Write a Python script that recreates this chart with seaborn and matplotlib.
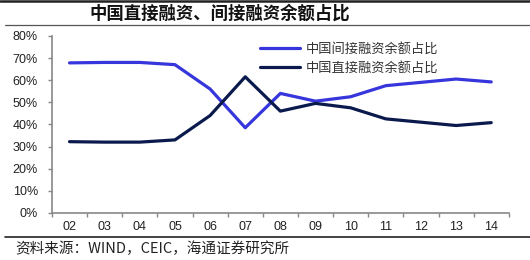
import matplotlib
matplotlib.use("Agg")
import matplotlib.pyplot as plt
import seaborn as sns
import pandas as pd
from matplotlib.lines import Line2D
from matplotlib.ticker import PercentFormatter, FixedLocator

years = ["02", "03", "04", "05", "06", "07", "08", "09", "10", "11", "12", "13", "14"]
indirect = [0.678, 0.680, 0.680, 0.670, 0.560, 0.385, 0.540, 0.505, 0.525, 0.575, 0.590, 0.605, 0.592]
direct = [0.322, 0.320, 0.320, 0.330, 0.440, 0.615, 0.460, 0.495, 0.475, 0.425, 0.410, 0.395, 0.408]
name_indirect = "中国间接融资余额占比"
name_direct = "中国直接融资余额占比"
title = "中国直接融资、间接融资余额占比"
source = "资料来源：WIND，CEIC，海通证券研究所"

df = pd.DataFrame({
    "year": years * 2,
    "value": indirect + direct,
    "series": [name_indirect] * len(years) + [name_direct] * len(years),
})

sns.set_theme(style="white")
plt.rcParams["font.family"] = ["Liberation Sans", "Noto Sans CJK SC", "DejaVu Sans"]
cjk = ["Noto Sans CJK SC", "DejaVu Sans"]

fig = plt.figure(figsize=(5.3, 2.6), dpi=100)
ax = fig.add_axes([0.098, 0.181, 0.862, 0.681])

palette = {name_indirect: "#3636dc", name_direct: "#0b1a4d"}
sns.lineplot(data=df, x="year", y="value", hue="series", palette=palette,
             linewidth=2.3, ax=ax, sort=False)

ax.set_xlim(-0.5, len(years) - 0.5)
ax.set_ylim(0, 0.8)
ax.set_yticks([i / 10 for i in range(9)])
ax.yaxis.set_major_formatter(PercentFormatter(1.0, decimals=0))
ax.set_xticks(range(len(years)))
ax.set_xticklabels(years)
ax.xaxis.set_minor_locator(FixedLocator([i - 0.5 for i in range(len(years) + 1)]))
ax.tick_params(axis="x", which="major", length=0, pad=6, labelsize=9, colors="#222222")
ax.tick_params(axis="x", which="minor", length=3, width=1, color="#888888", direction="out", bottom=True)
ax.tick_params(axis="y", length=3, width=1, color="#888888", direction="out", left=True, pad=7,
               labelsize=9, labelcolor="#222222")
ax.set_xlabel("")
ax.set_ylabel("")
for s in ["top", "right"]:
    ax.spines[s].set_visible(False)
for s in ["left", "bottom"]:
    ax.spines[s].set_color("#888888")
    ax.spines[s].set_linewidth(1.2)

leg = ax.legend(loc="upper left", bbox_to_anchor=(0.43, 1.03), frameon=False,
                prop={"family": cjk, "size": 9.5}, handlelength=3.0, handletextpad=0.45,
                labelspacing=0.45, labelcolor="#333333")

fig.text(0.415, 0.948, title, family=cjk, fontsize=12.5, fontweight="bold",
         color="#111111", ha="center", va="center")
fig.text(0.028, 0.042, source, family=cjk, fontsize=10.5, color="#222222",
         ha="left", va="center")

fig.add_artist(Line2D([0, 1], [0.997, 0.997], transform=fig.transFigure, color="#222222", linewidth=1.8))
fig.add_artist(Line2D([0.01, 1], [0.903, 0.903], transform=fig.transFigure, color="#555555", linewidth=0.9))
fig.add_artist(Line2D([0.01, 1], [0.09, 0.09], transform=fig.transFigure, color="#222222", linewidth=1.2))

fig.savefig("out.png", dpi=100)
